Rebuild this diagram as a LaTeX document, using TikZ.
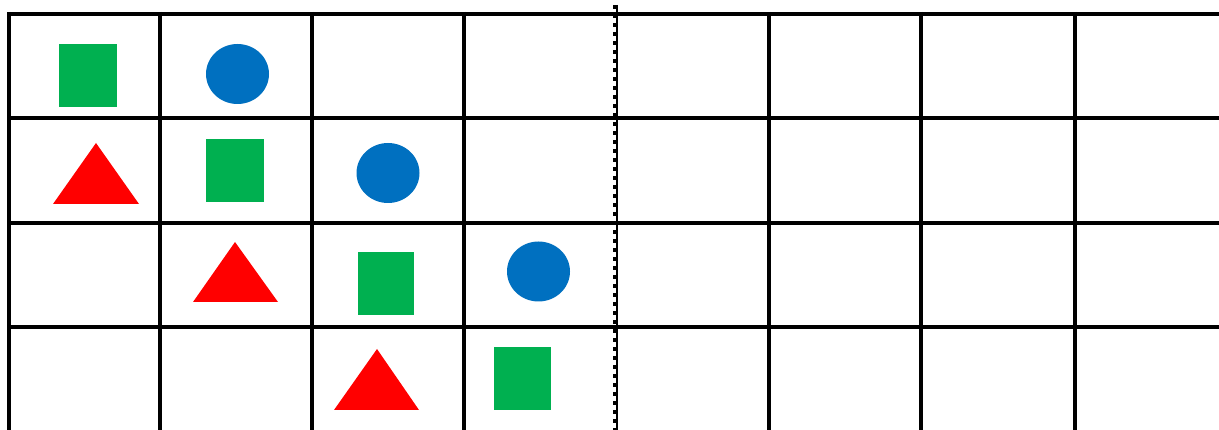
\documentclass[tikz,border=0pt]{standalone}
\definecolor{sqgreen}{HTML}{00B050}
\definecolor{dotblue}{HTML}{0070C0}
\definecolor{trired}{HTML}{FF0000}
\begin{document}
\begin{tikzpicture}[x=1pt,y=-1pt,
  gridline/.style={line width=4pt,black},
  sq/.style={fill=sqgreen},
  dot/.style={fill=dotblue},
  tri/.style={fill=trired}]
\useasboundingbox (0,0) rectangle (1219,430);
\fill[white] (0,0) rectangle (1219,430);
% horizontal lines
\foreach \y in {14,118,223,327}
  \draw[gridline] (7,\y) -- (1225,\y);
% vertical lines
\foreach \x in {9,160,312,464,769,921,1075}
  \draw[gridline] (\x,12) -- (\x,440);
% dotted divider
\draw[line width=1.2pt] (617,6) -- (617,440);
\draw[line width=5pt, dash pattern=on 4pt off 5pt] (615.5,5) -- (615.5,440);
% row 1
\fill[sq] (59,44) rectangle (117,107);
\fill[dot] (237.5,74) ellipse [x radius=31.5, y radius=30];
% row 2
\fill[tri] (96,143) -- (139,204) -- (53,204) -- cycle;
\fill[sq] (206,139) rectangle (264,202);
\fill[dot] (388,173) ellipse [x radius=31.5, y radius=30];
% row 3
\fill[tri] (235,242) -- (278,302) -- (193,302) -- cycle;
\fill[sq] (358,252) rectangle (414,315);
\fill[dot] (538.5,271.5) ellipse [x radius=31.5, y radius=30];
% row 4
\fill[tri] (377,349) -- (419,410) -- (334,410) -- cycle;
\fill[sq] (494,347) rectangle (551,410);
\end{tikzpicture}
\end{document}
